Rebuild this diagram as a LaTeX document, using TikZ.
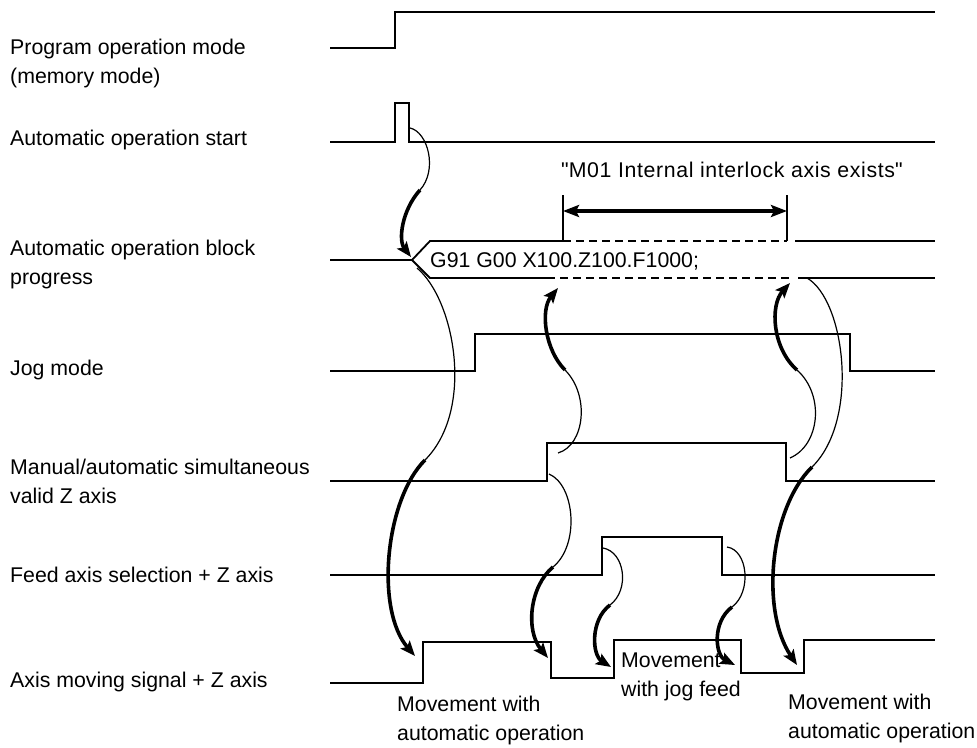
\documentclass[tikz,border=0pt]{standalone}
\usepackage{fontspec}
\setmainfont{Liberation Sans}
\usetikzlibrary{arrows.meta}

\tikzset{
  sig/.style={line width=1.8, line join=miter},
  gap/.style={line width=2.4, dash pattern=on 8 off 5},
  cause/.style={line width=1.2},
  effect/.style={line width=3.6, -{Stealth[length=15,width=12,inset=3]}},
  lbl/.style={anchor=base west, align=left, inner sep=0pt},
}

\begin{document}
\begin{tikzpicture}[x=1pt,y=-1pt,font=\fontsize{21.3}{29}\selectfont]
\useasboundingbox (0,0) rectangle (977,747);

% row labels (base = last line)
\node[lbl] (prog) at (10,83) {Program operation mode\\(memory mode)};
\node[lbl] (start) at (10,145) {Automatic operation start};
\node[lbl] (block) at (10,284) {Automatic operation block\\progress};
\node[lbl] (jog) at (10,375) {Jog mode};
\node[lbl] (manual) at (10,503) {Manual/automatic simultaneous\\valid Z axis};
\node[lbl] (feed) at (10,582) {Feed axis selection + Z axis};
\node[lbl] (moving) at (10,687) {Axis moving signal + Z axis};

% signals
\draw[sig] (330,48) -- (395,48) -- (395,12) -- (935,12);
\draw[sig] (330,142) -- (395,142) -- (395,103) -- (409,103) -- (409,142) -- (935,142);
\draw[sig] (330,260) -- (412,260) -- (430,241) -- (563,241);
\draw[gap] (563,241) -- (787,241);
\draw[sig] (795,241) -- (935,241);
\draw[sig] (412,260) -- (430,278) -- (547,278);
\draw[gap] (547,278) -- (790,278);
\draw[sig] (798,278) -- (935,278);
\node[lbl] (gcode) at (430,267) {G91 G00 X100.Z100.F1000;};
\draw[sig] (330,371) -- (475,371) -- (475,334) -- (850,334) -- (850,371) -- (935,371);
\draw[sig] (330,481) -- (547,481) -- (547,443) -- (786,443) -- (786,481) -- (935,481);
\draw[sig] (330,575) -- (602,575) -- (602,537) -- (722,537) -- (722,575) -- (935,575);
\draw[sig] (330,683) -- (423,683) -- (423,642) -- (551,642) -- (551,678) -- (614,678)
  -- (614,640) -- (741,640) -- (741,673) -- (804,673) -- (804,640) -- (935,640);

% interlock span
\coordinate (lk-a) at (563,195);
\coordinate (lk-b) at (787,195);
\draw[cause] (lk-a) -- (563,241);
\draw[cause] (lk-b) -- (787,241);
\draw[line width=3.6, {Stealth[length=16,width=12,inset=3]}-{Stealth[length=16,width=12,inset=3]}]
  (563,211) -- (787,211);
\node[lbl] (intlk) at (561,177)
  {\addfontfeature{LetterSpace=3}\textquotedbl M01 Internal interlock axis exists\textquotedbl};

% cause -> effect points
\coordinate (stfall) at (410,128);
\coordinate (stbend) at (420,190);
\coordinate (blkon) at (411,257);
\coordinate (blkoff) at (417,268);
\coordinate (blkbend) at (425,460);
\coordinate (mvup1) at (415,656);
\coordinate (manup) at (558,453);
\coordinate (manbend1) at (565,370);
\coordinate (lkon) at (558,288);
\coordinate (manup2) at (549,474);
\coordinate (manbend2) at (553,567);
\coordinate (mvdn1) at (548,658);
\coordinate (feedup) at (603,548);
\coordinate (feedbend1) at (610,605);
\coordinate (mvup2) at (611,667);
\coordinate (feeddn) at (727,547);
\coordinate (feedbend2) at (732,607);
\coordinate (mvdn2) at (735,665);
\coordinate (mandn) at (790,458);
\coordinate (manbend3) at (797,370);
\coordinate (lkoff) at (790,283);
\coordinate (blkres) at (807,278);
\coordinate (blkbend2) at (812,467);
\coordinate (mvup3) at (797,665);

\draw[cause] (stfall) .. controls +(18,4) and +(18,-20) .. (stbend);
\draw[effect] (stbend) .. controls +(-18,20) and +(-13,-17) .. (blkon);
\draw[cause] (blkoff) .. controls +(38,32) and +(50,-50) .. (blkbend);
\draw[effect] (blkbend) .. controls +(-40,40) and +(-40,-46) .. (mvup1);
\draw[cause] (manup) .. controls +(27,-8) and +(25,25) .. (manbend1);
\draw[effect] (manbend1) .. controls +(-20,-20) and +(-18,22) .. (lkon);
\draw[cause] (manup2) .. controls +(26,11) and +(27,-22) .. (manbend2);
\draw[effect] (manbend2) .. controls +(-23,19) and +(-23,-28) .. (mvdn1);
\draw[cause] (feedup) .. controls +(22,4) and +(20,-15) .. (feedbend1);
\draw[effect] (feedbend1) .. controls +(-20,15) and +(-19,-12) .. (mvup2);
\draw[cause] (feeddn) .. controls +(21,3) and +(20,-15) .. (feedbend2);
\draw[effect] (feedbend2) .. controls +(-20,15) and +(-20,-10) .. (mvdn2);
\draw[cause] (mandn) .. controls +(30,-13) and +(28,25) .. (manbend3);
\draw[effect] (manbend3) .. controls +(-25,-22) and +(-20,22) .. (lkoff);
\draw[cause] (blkres) .. controls +(38,22) and +(48,-47) .. (blkbend2);
\draw[effect] (blkbend2) .. controls +(-42,41) and +(-37,-55) .. (mvup3);

% movement notes
\node[lbl] (auto1) at (397,740) {Movement with\\automatic operation};
\node[lbl] (jogfeed) at (621,696) {Movement\\with jog feed};
\node[lbl] (auto2) at (788,738) {Movement with\\automatic operation};
\end{tikzpicture}
\end{document}
